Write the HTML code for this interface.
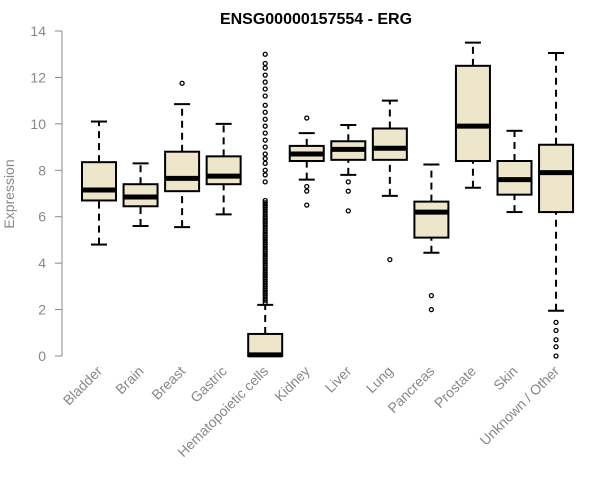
<!DOCTYPE html>
<html><head><meta charset="utf-8"><style>
body{margin:0;background:#fff}
svg{display:block;font-family:"Liberation Sans",Arial,sans-serif}
</style></head><body>
<svg id="c" width="600" height="500">
<text x="316" y="24" text-anchor="middle" font-weight="bold" font-size="16">ENSG00000157554 - ERG</text>
<text transform="translate(14,194) rotate(-90)" text-anchor="middle" font-size="14" fill="#888">Expression</text>
<g id="g"></g>
</svg>
<script>
const categories=["Bladder","Brain","Breast","Gastric","Hematopoietic cells","Kidney","Liver","Lung","Pancreas","Prostate","Skin","Unknown / Other"];
const whiskerLow=[4.8,5.6,5.55,6.1,0,7.6,7.8,6.9,4.45,7.25,6.2,1.95];
const q1=[6.7,6.45,7.1,7.4,0,8.4,8.45,8.45,5.1,8.4,6.95,6.2];
const medians=[7.15,6.85,7.65,7.75,0.05,8.7,8.9,8.95,6.2,9.9,7.6,7.9];
const q3=[8.35,7.4,8.8,8.6,0.95,9.05,9.25,9.8,6.65,12.5,8.4,9.1];
const whiskerHigh=[10.1,8.3,10.85,10.0,2.2,9.6,9.95,11.0,8.25,13.5,9.7,13.05];
const outliers=[[],[],[11.75],[],
[2.3,2.4,2.5,2.6,2.7,2.8,2.9,3.0,3.1,3.2,3.3,3.4,3.5,3.6,3.7,3.8,3.9,4.0,4.1,4.2,4.3,4.4,4.5,4.6,4.7,4.8,4.9,5.0,5.1,5.2,5.3,5.4,5.5,5.6,5.7,5.8,5.9,6.0,6.1,6.2,6.3,6.4,6.5,6.6,6.7,7.5,7.8,8.0,8.3,8.5,8.7,9.0,9.3,9.6,9.9,10.2,10.5,10.8,11.2,11.5,11.8,12.1,12.4,12.6,13.0],
[10.25,7.3,7.1,6.5],[7.5,7.1,6.25],[4.15],[2.6,2.0],[],[],[1.45,1.1,0.7,0.4,0.0]];
const yTicks=[0,2,4,6,8,10,12,14];
const y=v=>356-v*(325/14);
const x=i=>99+i*41.55;
const NS="http://www.w3.org/2000/svg";
const g=document.getElementById('g');
function mk(t,a){const e=document.createElementNS(NS,t);for(const k in a)e.setAttribute(k,a[k]);g.appendChild(e);return e;}
let ax=mk('line',{x1:62,x2:62,y1:y(0),y2:y(14),stroke:'#888'});


yTicks.forEach(t=>{
 const l=mk('line',{x1:55,x2:62,y1:y(t),y2:y(t),stroke:'#888'});
 
 
 const tx=mk('text',{x:46,y:y(t)+5,'text-anchor':'end','font-size':14,fill:'#888'});
 tx.textContent=t;
 
 
});
categories.forEach((c,i)=>{
 const cx=x(i),w=17;
 const wl=mk('line',{x1:cx,x2:cx,y1:y(whiskerLow[i]),y2:y(q1[i]),stroke:'#000','stroke-width':2,'stroke-dasharray':'7,5'});
 
 
 const wh=mk('line',{x1:cx,x2:cx,y1:y(q3[i]),y2:y(whiskerHigh[i]),stroke:'#000','stroke-width':2,'stroke-dasharray':'7,5'});
 
 
 [whiskerLow[i],whiskerHigh[i]].forEach(v=>{
  const cap=mk('line',{x1:cx-8,x2:cx+8,y1:y(v),y2:y(v),stroke:'#000','stroke-width':2});
  
  
 });
 const b=mk('rect',{x:cx-w,y:y(q3[i]),width:2*w,height:y(q1[i])-y(q3[i]),fill:'#ede6cb',stroke:'#000','stroke-width':2});
 
 
 const m=mk('line',{x1:cx-w,x2:cx+w,y1:y(medians[i]),y2:y(medians[i]),stroke:'#000','stroke-width':5});
 
 
 outliers[i].forEach(v=>{
  const o=mk('circle',{cx:cx,cy:y(v),r:2,fill:'none',stroke:'#000','stroke-width':1.3});
  
  
 });
 const t=mk('text',{x:cx+4,y:372,'text-anchor':'end','font-size':14,fill:'#888',transform:`rotate(-45 ${cx+4} 372)`});
 t.textContent=c;
 
 
});
</script>
</body></html>
